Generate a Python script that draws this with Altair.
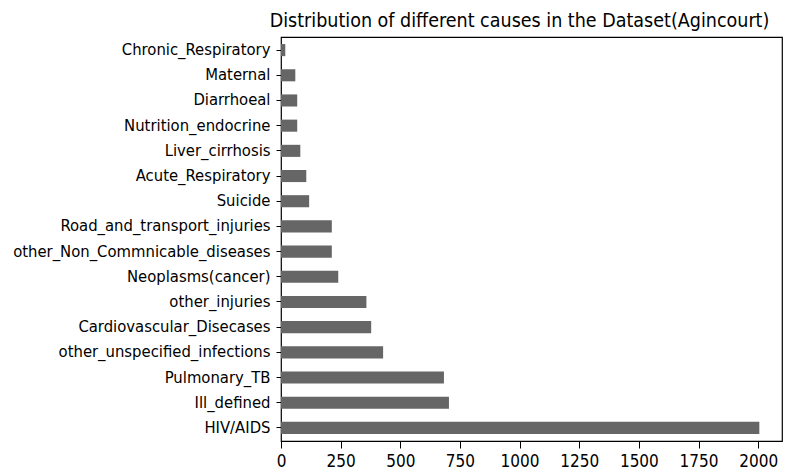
import altair as alt
import pandas as pd

causes = [
    "Chronic_Respiratory", "Maternal", "Diarrhoeal", "Nutrition_endocrine",
    "Liver_cirrhosis", "Acute_Respiratory", "Suicide", "Road_and_transport_injuries",
    "other_Non_Commnicable_diseases", "Neoplasms(cancer)", "other_injuries",
    "Cardiovascular_Disecases", "other_unspecified_infections", "Pulmonary_TB",
    "Ill_defined", "HIV/AIDS",
]
counts = [18, 60, 68, 68, 81, 106, 118, 213, 213, 240, 358, 378, 428, 683, 704, 2005]
x_ticks = [0, 250, 500, 750, 1000, 1250, 1500, 1750, 2000]

df = pd.DataFrame({"cause": causes, "count": counts})

FONT = "DejaVu Sans Condensed, DejaVu Sans"

chart = (
    alt.Chart(df)
    .mark_bar(color="#666666")
    .encode(
        x=alt.X(
            "count:Q",
            scale=alt.Scale(domain=[0, 2100], nice=False, zero=True),
            axis=alt.Axis(
                values=x_ticks, title=None, grid=False, domain=False, format="d",
                tickColor="black", tickSize=7, labelFontSize=17, labelFont=FONT,
                labelColor="black", labelPadding=5, labelFlush=False,
            ),
        ),
        y=alt.Y(
            "cause:N",
            sort=causes,
            scale=alt.Scale(paddingInner=0.52, paddingOuter=0.28),
            axis=alt.Axis(
                title=None, grid=False, domain=False,
                tickColor="black", tickSize=5, labelFontSize=16.5, labelFont=FONT,
                labelColor="black", labelPadding=6, labelLimit=400,
            ),
        ),
    )
    .properties(
        width=501,
        height=404,
        title=alt.TitleParams(
            "Distribution of different causes in the Dataset(Agincourt)",
            font=FONT, fontSize=19.5, fontWeight="normal", color="black",
            anchor="middle", offset=6, dx=-12,
        ),
        autosize=alt.AutoSizeParams(type="none"),
        padding={"left": 273, "top": 29, "right": 2, "bottom": 28},
    )
    .configure_view(stroke="black", strokeWidth=1.2)
)

chart.save("out.html", embed_options={"renderer": "svg", "actions": False})
